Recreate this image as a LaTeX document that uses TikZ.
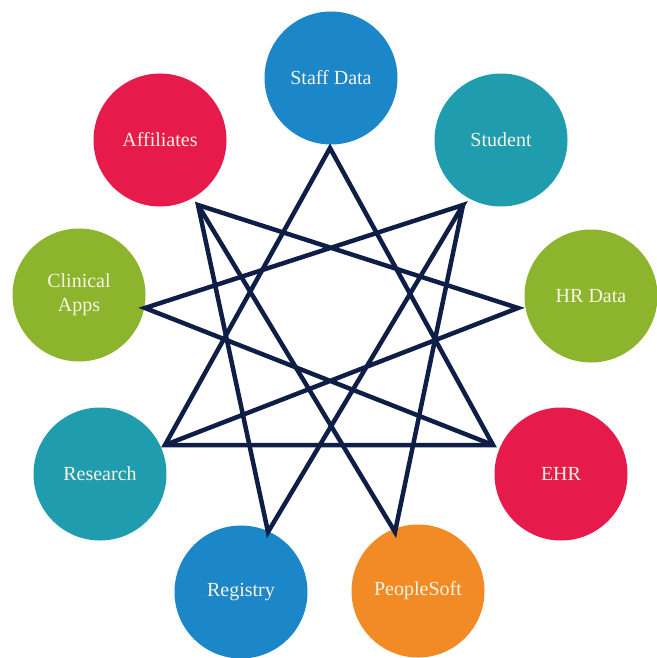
\documentclass[tikz,border=0pt]{standalone}
\usepackage{fontspec}
\setmainfont{Liberation Serif}
\usepackage{tikz}

\definecolor{sysblue}{HTML}{1B87C8}
\definecolor{systeal}{HTML}{1F9DAE}
\definecolor{sysgreen}{HTML}{8CB42C}
\definecolor{sysred}{HTML}{E61A4B}
\definecolor{sysorange}{HTML}{F28A25}
\definecolor{starnavy}{HTML}{0E1E46}
\definecolor{labelcream}{HTML}{F8F4E6}

\begin{document}
\begin{tikzpicture}[x=1pt, y=-1pt,
  sys/.style={circle, minimum size=133pt, inner sep=0pt, align=center,
    text=labelcream, font=\fontsize{20}{24}\selectfont},
  link/.style={draw=starnavy, line width=4.5pt, line join=miter}]
  \useasboundingbox (0,0) rectangle (656,658);

  \node[sys, fill=sysblue]   (staff)    at (331,78)  {Staff Data};
  \node[sys, fill=systeal]   (student)  at (501,140) {Student};
  \node[sys, fill=sysgreen]  (hr)       at (591,296) {HR Data};
  \node[sys, fill=sysred]    (ehr)      at (561,474) {EHR};
  \node[sys, fill=sysorange] (people)   at (418,591) {PeopleSoft};
  \node[sys, fill=sysblue]   (registry) at (241,592) {Registry};
  \node[sys, fill=systeal]   (research) at (100,474) {Research};
  \node[sys, fill=sysgreen]  (clinical) at (79,295)  {Clinical\\Apps};
  \node[sys, fill=sysred]    (affil)    at (160,140) {Affiliates};

  \coordinate (p-top) at (330,148);
  \coordinate (p-ur)  at (463,205);
  \coordinate (p-r)   at (518,308);
  \coordinate (p-lr)  at (493,445);
  \coordinate (p-br)  at (395,532);
  \coordinate (p-bl)  at (268,532);
  \coordinate (p-ll)  at (165,445);
  \coordinate (p-l)   at (145,308);
  \coordinate (p-ul)  at (198,205);

  \path[link] (p-top) -- (p-lr) -- (p-ll) -- cycle;
  \path[link] (p-ll) -- (p-r) -- (p-ul) -- (p-bl) -- (p-ur) -- (p-l) -- (p-lr);
  \path[link] (p-ul) -- (p-br) -- (p-ur);
\end{tikzpicture}
\end{document}
